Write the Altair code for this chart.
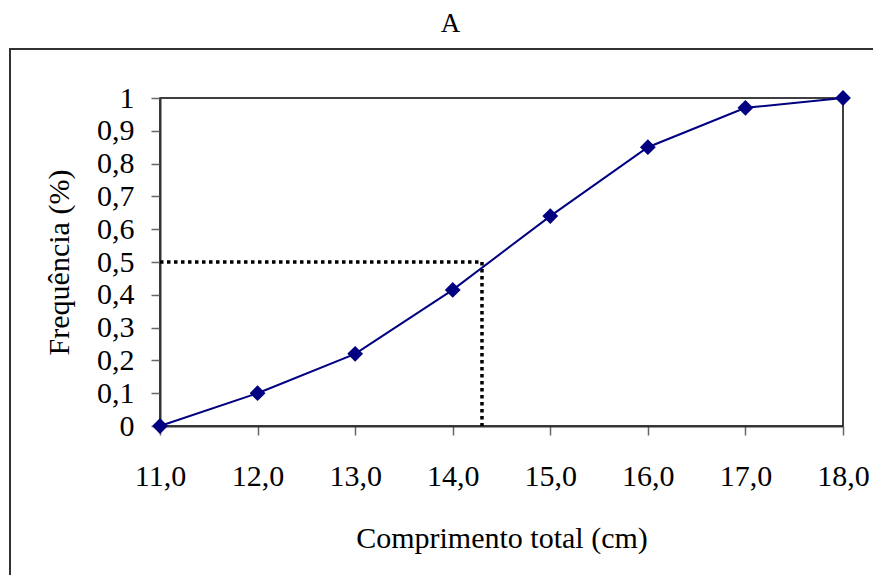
import altair as alt
import pandas as pd

# Data
lengths = [11.0, 12.0, 13.0, 14.0, 15.0, 16.0, 17.0, 18.0]
freqs = [0.0, 0.10, 0.22, 0.415, 0.64, 0.85, 0.97, 1.0]
y_ticks = [0.0, 0.1, 0.2, 0.3, 0.4, 0.5, 0.6, 0.7, 0.8, 0.9, 1.0]

# Reference (median) lines
ref_h_x = [11.0, 14.3]
ref_h_y = [0.5, 0.5]
ref_v_x = [14.3, 14.3]
ref_v_y = [0.5, 0.0]

df = pd.DataFrame({"x": lengths, "y": freqs})
dh = pd.DataFrame({"x": [ref_h_x[0]], "x2": [ref_h_x[1]], "y": [ref_h_y[0]]})
dv = pd.DataFrame({"x": [ref_v_x[0]], "y": [ref_v_y[0]], "y2": [ref_v_y[1]]})

FONT = "Liberation Serif"

xscale = alt.Scale(domain=[11, 18], nice=False, zero=False)
yscale = alt.Scale(domain=[0, 1], nice=False)

xaxis = alt.Axis(
    title="Comprimento total  (cm)",
    values=lengths,
    labelExpr="replace(format(datum.value, '.1f'), '.', ',')",
    grid=False,
    tickSize=9,
    labelPadding=26,
    titlePadding=32,
)
yaxis = alt.Axis(
    title="Frequência (%)",
    values=y_ticks,
    labelExpr="replace(format(datum.value, '.1~f'), '.', ',')",
    grid=False,
    tickSize=9,
    labelPadding=17,
    titlePadding=22,
)

X = lambda f: alt.X(f, scale=xscale, axis=xaxis)
Y = lambda f: alt.Y(f, scale=yscale, axis=yaxis)

base = alt.Chart(df)

frame = base.mark_rect(fill=None, stroke="#333333", strokeWidth=1.5).encode(
    x=alt.value(-150), x2=alt.value(760), y=alt.value(-49), y2=alt.value(540)
)

line = base.mark_line(color="#000080", strokeWidth=2).encode(x=X("x:Q"), y=Y("y:Q"))
pts = base.mark_point(shape="diamond", filled=True, size=250, color="#000080", opacity=1).encode(
    x=X("x:Q"), y=Y("y:Q")
)

hline = alt.Chart(dh).mark_rule(color="black", strokeWidth=3.5, strokeDash=[3.5, 3.5]).encode(
    x=X("x:Q"), x2="x2:Q", y=Y("y:Q")
)
vline = alt.Chart(dv).mark_rule(color="black", strokeWidth=3.5, strokeDash=[3.5, 3.5]).encode(
    x=X("x:Q"), y=Y("y:Q"), y2="y2:Q"
)

chart = (
    alt.layer(frame, hline, vline, line, pts)
    .properties(
        width=683,
        height=328,
        padding={"left": 152, "top": 90, "right": 30, "bottom": 149},
        autosize=alt.AutoSizeParams(type="none"),
        background="white",
        title=alt.TitleParams("A", font=FONT, fontSize=27, fontWeight="normal",
                              color="black", anchor="middle", dx=-51, offset=10),
    )
    .configure_view(stroke="black", strokeWidth=1.5)
    .configure_axis(
        labelFont=FONT, titleFont=FONT, labelFontSize=30, titleFontSize=30,
        titleFontWeight="normal", labelColor="black", titleColor="black",
        domainColor="#333333", domainWidth=2, tickColor="#666666", tickWidth=1.5,
        labelFlush=False, labelOverlap=False,
    )
)

chart.save("out.html", embed_options={"renderer": "svg", "actions": False})
